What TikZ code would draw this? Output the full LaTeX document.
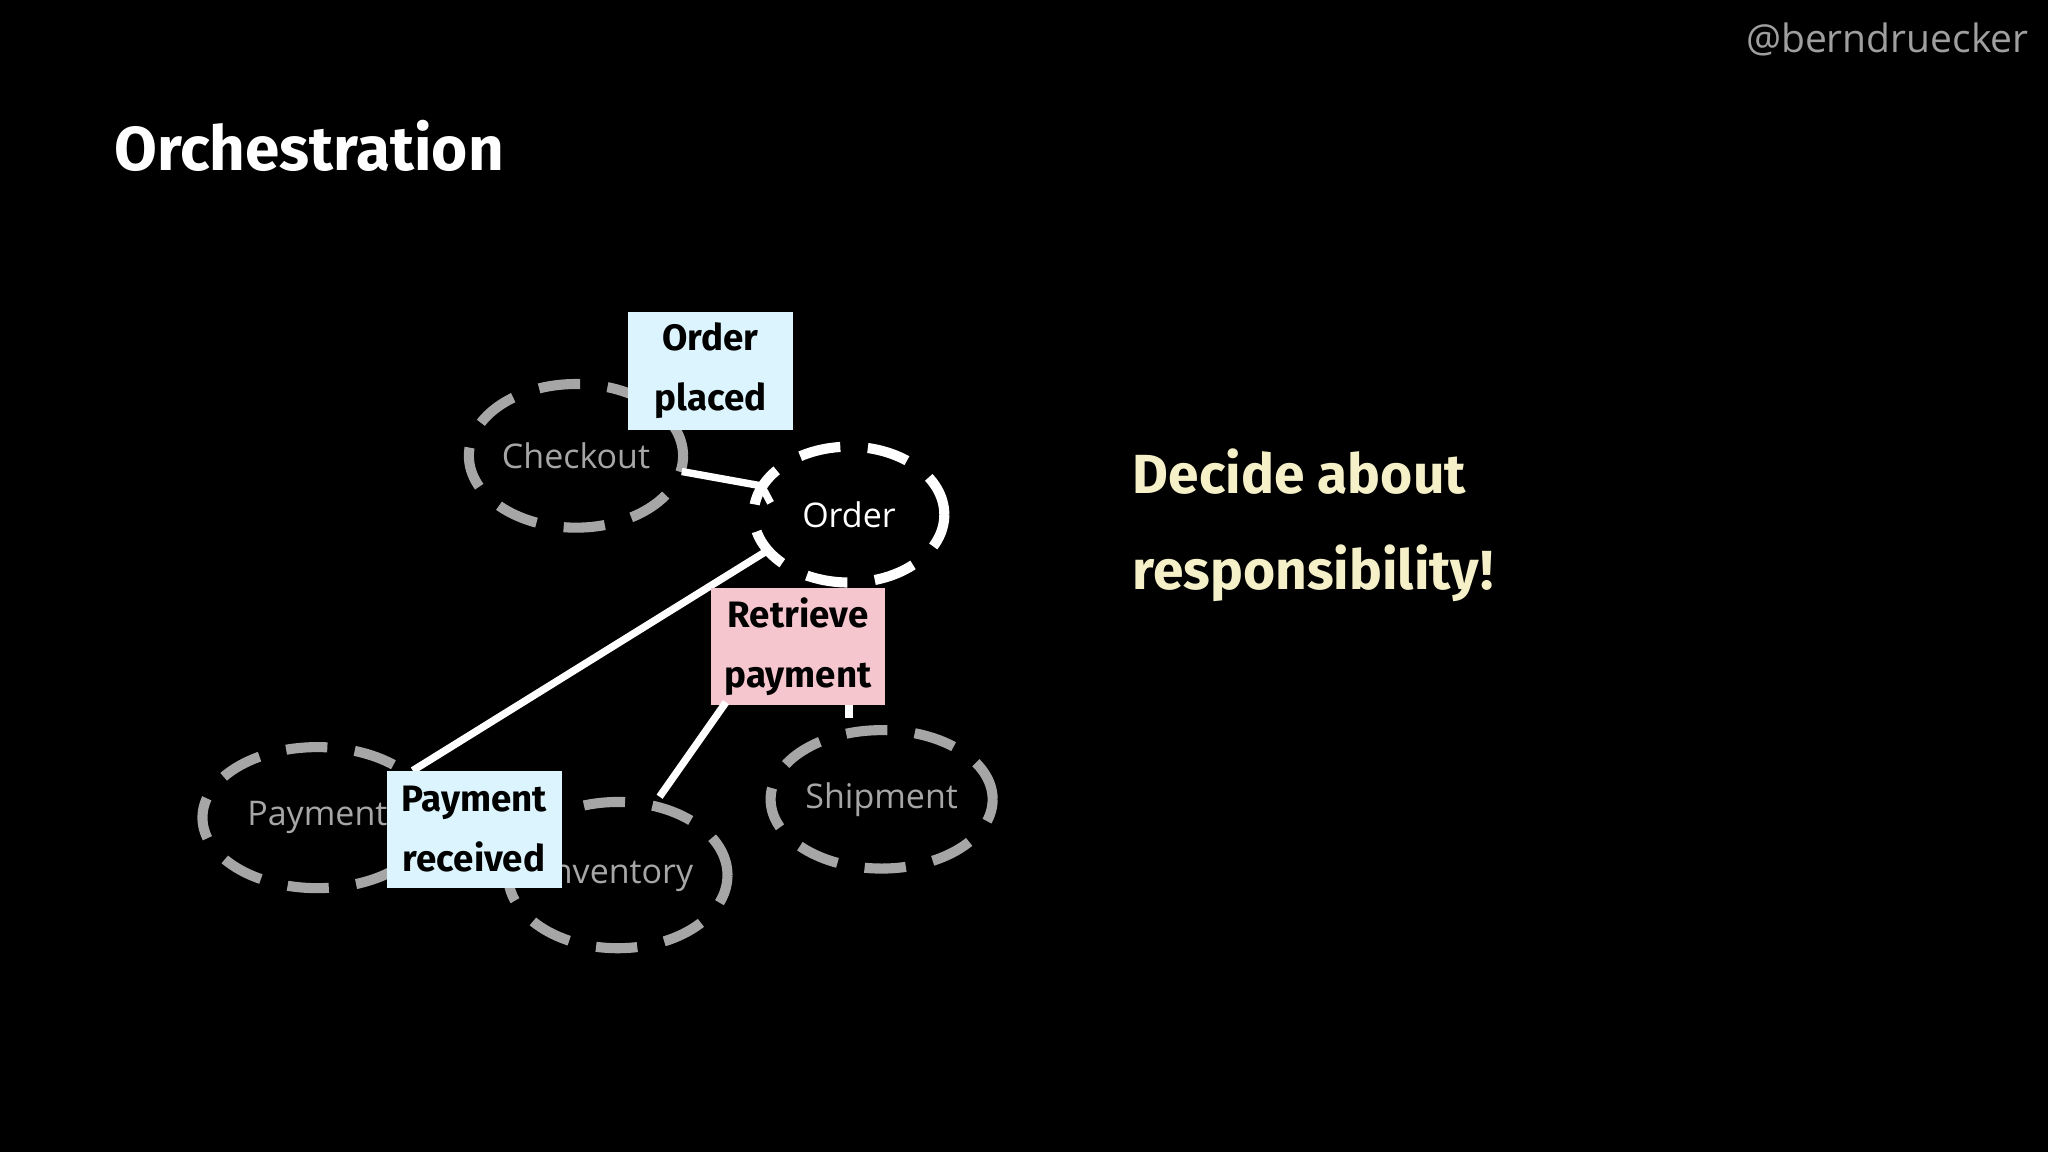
\documentclass[tikz,border=0pt]{standalone}
\usepackage{fontspec}
\setmainfont{Open Sans}
\newfontfamily\hand{Fira Sans}
\usetikzlibrary{shapes.geometric}
\begin{document}
\begin{tikzpicture}[x=0.01cm,y=-0.01cm,
  svc/.style={ellipse, inner sep=0pt, draw=gray!70, line width=2.2pt, dash pattern=on 9pt off 6pt, text=gray!70, font=\fontsize{7.4}{9}\selectfont},
  sticky/.style={minimum width=127*0.01cm, minimum height=90*0.01cm, inner sep=0pt, align=center, font=\hand\fontsize{8}{13}\selectfont\bfseries, text=black},
  conn/.style={draw=white, line width=1.6pt}]
\fill[black] (0,0) rectangle (1568,882);
\node[text=gray!75, font=\fontsize{8.5}{10}\selectfont] (handle) at (1445,30) {@berndruecker};
\node[text=white, anchor=west, font=\hand\fontsize{13.5}{16}\selectfont\bfseries] (title) at (75,112) {Orchestration};
\node[svc, minimum width=164*0.01cm, minimum height=110*0.01cm] (checkout) at (441,349) {Checkout};
\node[svc, draw=white, text=white, minimum width=146*0.01cm, minimum height=104*0.01cm] (order) at (650,394) {Order};
\node[svc, minimum width=176*0.01cm, minimum height=108*0.01cm] (payment) at (243,626) {Payment};
\node[svc, minimum width=168*0.01cm, minimum height=112*0.01cm] (inventory) at (473,670) {Inventory};
\node[svc, minimum width=170*0.01cm, minimum height=106*0.01cm] (shipment) at (675,612) {Shipment};
\coordinate (c1) at (522,361);
\coordinate (c2) at (583,372);
\coordinate (c3) at (590,385);
\draw[conn] (c1) -- (c2) -- (c3);
\coordinate (o1) at (590,420);
\coordinate (p1) at (316,590);
\draw[conn] (o1) -- (p1);
\node[sticky, fill=cyan!14!white] (placed) at (544,284) {Order\\placed};
\node[sticky, fill={rgb,255:red,246;green,198;blue,207}, minimum width=133*0.01cm] (retrieve) at (611,495) {Retrieve\\payment};
\coordinate (i1) at (505,610);
\draw[conn] (retrieve.south west)++(12,-3) -- (i1);
\coordinate (s0) at (650,540);
\coordinate (s1) at (650,550);
\draw[conn] (s0) -- (s1);
\node[sticky, fill=cyan!14!white, minimum width=134*0.01cm] (received) at (363,635) {Payment\\received};
\node[text={rgb,255:red,245;green,240;blue,200}, anchor=west, align=left, font=\hand\fontsize{12}{21}\selectfont\bfseries] (decide) at (855,402) {Decide about\\responsibility!};
\end{tikzpicture}
\end{document}
